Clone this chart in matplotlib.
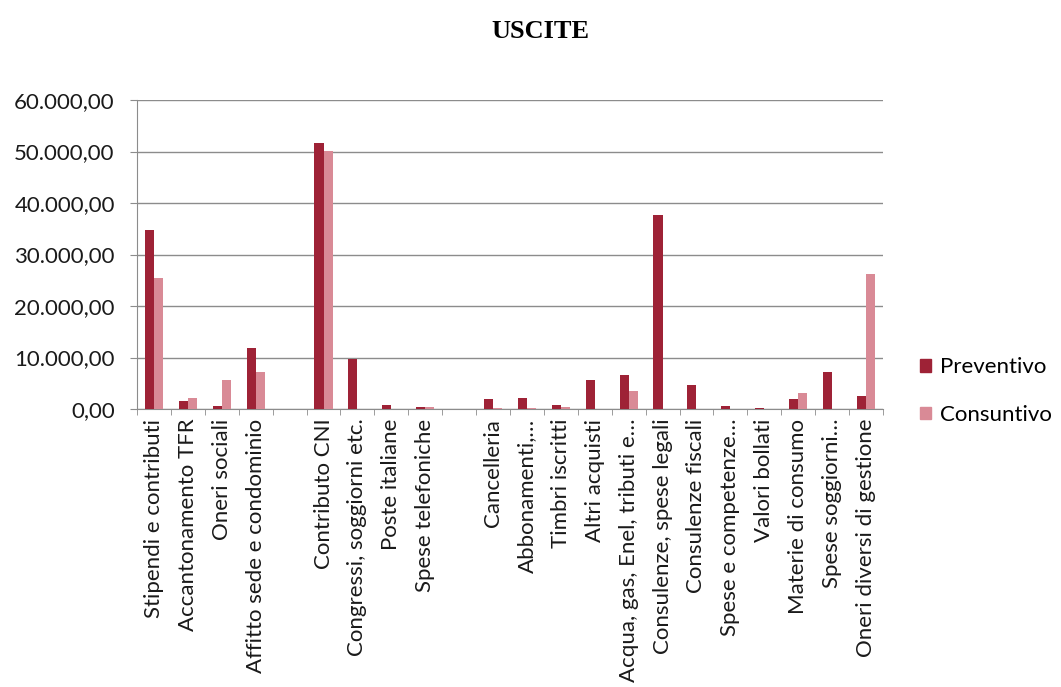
import matplotlib
matplotlib.use("Agg")
import matplotlib.pyplot as plt
import numpy as np
from matplotlib.ticker import FuncFormatter, FixedLocator
from matplotlib.patches import Patch

categories = [
    "Stipendi e contributi", "Accantonamento TFR", "Oneri sociali",
    "Affitto sede e condominio", "", "Contributo CNI", "Congressi, soggiorni etc.",
    "Poste italiane", "Spese telefoniche", "", "Cancelleria", "Abbonamenti,…",
    "Timbri iscritti", "Altri acquisti", "Acqua, gas, Enel, tributi e…",
    "Consulenze, spese legali", "Consulenze fiscali", "Spese e competenze…",
    "Valori bollati", "Materie di consumo", "Spese soggiorni…",
    "Oneri diversi di gestione",
]
preventivo = [34800, 1600, 600, 11800, 0, 51600, 9800, 800, 450, 0, 1950, 2050,
              780, 5650, 6650, 37700, 4650, 650, 100, 1900, 7100, 2500]
consuntivo = [25400, 2100, 5600, 7100, 0, 50100, 0, 0, 300, 0, 200, 100,
              300, 0, 3400, 0, 0, 0, 0, 3050, 0, 26200]
series_names = ["Preventivo", "Consuntivo"]
yticks = [0, 10000, 20000, 30000, 40000, 50000, 60000]

plt.rcParams['font.family'] = ['Lato', 'DejaVu Sans']

W, H = 1061, 687
fig = plt.figure(figsize=(W / 100, H / 100), dpi=100)
ax = fig.add_axes([137 / W, 1 - 409 / H, (883 - 137) / W, (409 - 100) / H])

n = len(categories)
x = np.arange(n)
bw = 0.27
c_prev = "#9e2236"
c_cons = "#d98a96"
ax.bar(x - bw / 2, preventivo, width=bw, color=c_prev, label=series_names[0], zorder=3)
ax.bar(x + bw / 2, consuntivo, width=bw, color=c_cons, label=series_names[1], zorder=3)

ax.set_xlim(-0.5, n - 0.5)
ax.set_ylim(0, 60000)
ax.set_yticks(yticks)
ax.yaxis.set_major_formatter(FuncFormatter(
    lambda v, p: f"{v:,.2f}".replace(",", "X").replace(".", ",").replace("X", ".")))
ax.grid(axis='y', color="#8c8c8c", linewidth=1.0, zorder=0)

ax.set_xticks(x)
ax.set_xticklabels(categories, rotation=90, ha='center', va='top')
ax.tick_params(axis='x', length=0, pad=7, labelsize=16, colors="#1a1a1a")
ax.xaxis.set_minor_locator(FixedLocator(np.arange(-0.5, n, 1.0)))
ax.tick_params(axis='x', which='minor', length=4, color="#8c8c8c")
ax.tick_params(axis='y', length=5, color="#8c8c8c", labelsize=16, labelcolor="#1a1a1a", pad=11)

for s in ['top', 'right']:
    ax.spines[s].set_visible(False)
for s in ['left', 'bottom']:
    ax.spines[s].set_color("#8c8c8c")

fig.text(540 / W, 1 - 32 / H, "USCITE", ha='center', va='center',
         fontsize=19, fontweight='bold', family=['Liberation Serif'])

handles = [Patch(color=c_prev, label=series_names[0]), Patch(color=c_cons, label=series_names[1])]
fig.legend(handles=handles, loc='center left', bbox_to_anchor=(900 / W, 1 - 391 / H),
           frameon=False, fontsize=16, handlelength=0.5, handleheight=0.5,
           handletextpad=0.4, labelspacing=1.25)

fig.savefig("out.png", dpi=100)
